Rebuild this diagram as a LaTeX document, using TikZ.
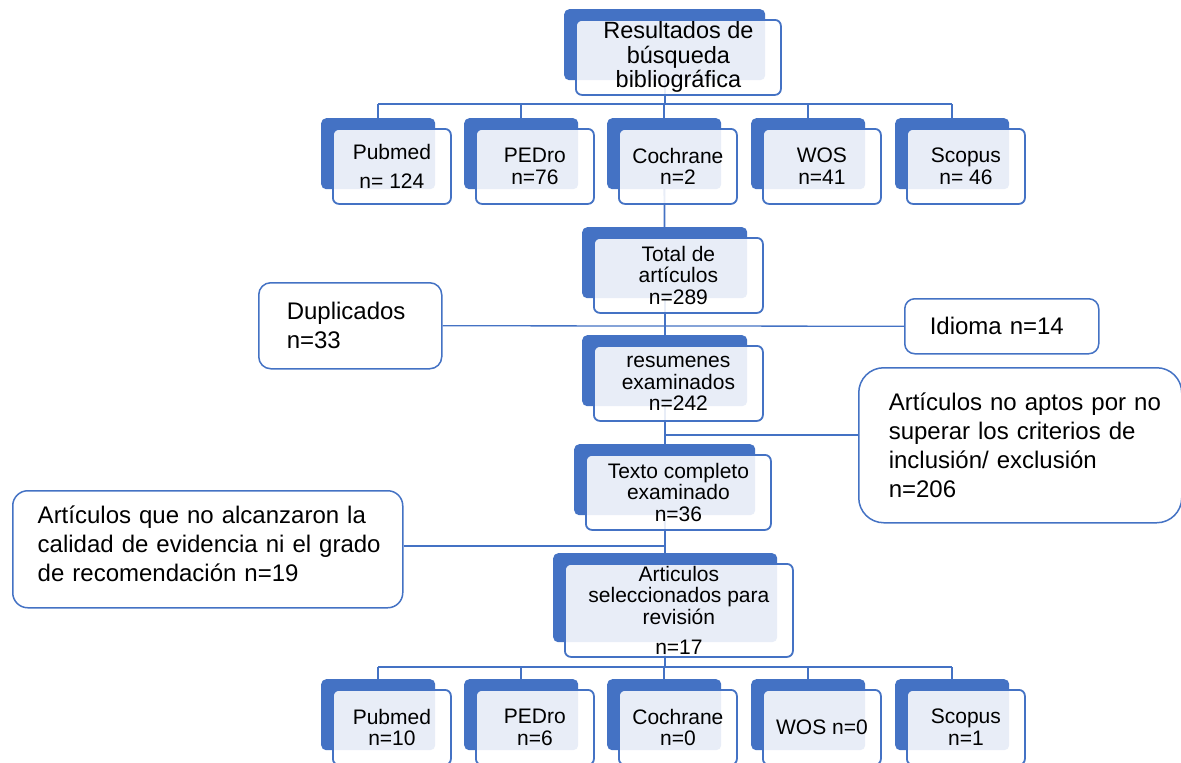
\documentclass[tikz,border=0pt]{standalone}
\usepackage{fontspec}
\setmainfont{Liberation Sans}
\usetikzlibrary{calc}
\definecolor{sablue}{HTML}{4472C4}
\pgfdeclarelayer{bg}
\pgfsetlayers{bg,main}
\tikzset{
  backbox/.style={fill=sablue, rounded corners=5pt, inner sep=0pt, anchor=north west},
  frontbox/.style={draw=sablue, line width=1.8pt, fill=white, fill opacity=0.88, text opacity=1,
    rounded corners=6pt, inner sep=0pt, anchor=north west, align=center, text=black,
    font=\fontsize{21}{21.5}\selectfont},
  sidebox/.style={draw=sablue, line width=1.5pt, fill=white, align=left, inner xsep=0pt,
    inner ysep=0pt, anchor=north west, text=black, font=\fontsize{24}{29}\selectfont},
  conn/.style={draw=sablue, line width=1.8pt},
  thinconn/.style={draw=sablue, line width=1.3pt},
}
% #1 extra front options, #2 name, #3 x, #4 y, #5 width, #6 height, #7 text
\newcommand\stk[7][]{%
  \node[backbox, minimum width=#5, minimum height=#6] (#2-b) at (#3,#4) {};
  \node[frontbox, minimum width=#5+4, minimum height=#6+4, #1] (#2) at ($(#2-b.north west)+(11,10)$) {#7};
}
\begin{document}
\begin{tikzpicture}[x=1pt, y=-1pt]
\useasboundingbox (0,0) rectangle (1181,763);
\begin{pgfonlayer}{bg}
  \fill[white] (0,0) rectangle (1181,763);
\end{pgfonlayer}

% top
\stk[font=\fontsize{23.5}{24.5}\selectfont]{top}{564}{9}{201}{71}{Resultados de\\búsqueda\\bibliográfica}

% row 1
\stk{pub1}{321}{118}{114}{71}{Pubmed\\[8pt]n= 124}
\stk{ped1}{464}{118}{114}{71}{PEDro\\n=76}
\stk{coc1}{607}{118}{114}{71}{Cochrane\\n=2}
\stk{wos1}{751}{118}{114}{71}{WOS\\n=41}
\stk{sco1}{895}{118}{114}{71}{Scopus\\n= 46}

% chain
\stk{tot}{582}{227}{165}{71}{Total de\\artículos\\n=289}
\stk{res}{582}{335}{165}{71}{resumenes\\examinados\\n=242}
\stk{tex}{574}{444}{181}{71}{Texto completo\\examinado\\n=36}
\stk{sel}{553}{553}{224}{89}{Articulos\\seleccionados para\\revisión\\[9pt]n=17}

% row 2
\stk{pub2}{321}{679}{114}{71}{Pubmed\\n=10}
\stk{ped2}{464}{679}{114}{71}{PEDro\\n=6}
\stk{coc2}{607}{679}{114}{71}{Cochrane\\n=0}
\stk{wos2}{751}{679}{114}{71}{WOS n=0}
\stk{sco2}{895}{679}{114}{71}{Scopus\\n=1}

% side boxes
\node[sidebox, rounded corners=12pt, minimum width=183, minimum height=86, text width=127]
  (dup) at (258,282) {Duplicados\\n=33};
\node[sidebox, rounded corners=10pt, minimum width=194, minimum height=55, text width=144]
  (idi) at (904,298) {\mbox{Idioma n=14}};
\node[sidebox, rounded corners=25pt, minimum width=323, minimum height=155, text width=263]
  (noap) at (858,367) {\mbox{Artículos no aptos por no}\\\mbox{superar los criterios de}\\\mbox{inclusión/ exclusión}\\n=206};
\node[sidebox, rounded corners=15pt, minimum width=390, minimum height=117, text width=340]
  (calid) at (12,490) {\mbox{Artículos que no alcanzaron la}\\\mbox{calidad de evidencia ni el grado}\\\mbox{de recomendación n=19}\rule[-12pt]{0pt}{0pt}};

% connectors
\coordinate (bus1) at (0,104);
\coordinate (bus2) at (0,667);
\coordinate (j1) at (0,435);
\coordinate (j2) at (0,546);
\begin{pgfonlayer}{bg}
  \draw[conn] (top-b.center) -- (top-b.center |- bus1);
  \draw[conn] (pub1-b.north |- bus1) -- (sco1-b.north |- bus1);
  \foreach \n in {pub1,ped1,coc1,wos1,sco1} \draw[conn] (\n-b.north) -- (\n-b.north |- bus1);
  \draw[conn] (coc1-b.center) -- (tot-b.center);
  \draw[conn] (tot-b.center) -- (res-b.center);
  \draw[conn] (res-b.center) -- (tex-b.center);
  \draw[conn] (tex-b.center) -- (sel-b.center);
  \draw[conn] (sel-b.center) -- (sel-b.center |- bus2);
  \draw[conn] (pub2-b.north |- bus2) -- (sco2-b.north |- bus2);
  \foreach \n in {pub2,ped2,coc2,wos2,sco2} \draw[conn] (\n-b.north) -- (\n-b.north |- bus2);
  \draw[thinconn] (dup.east) -- (idi.west);
  \draw[thinconn] (res-b.center |- j1) -- (noap.west |- j1);
  \draw[thinconn] (calid.east |- j2) -- (sel-b.center |- j2);
\end{pgfonlayer}
\end{tikzpicture}
\end{document}
